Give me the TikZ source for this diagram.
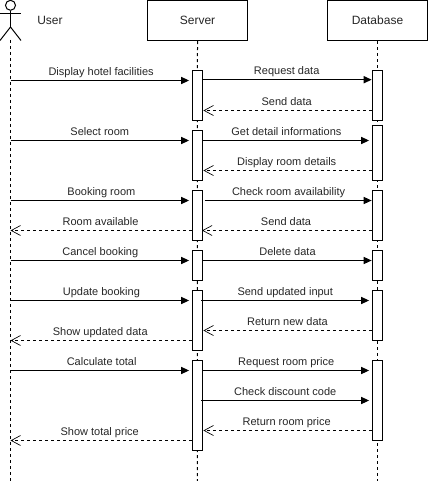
\documentclass[tikz,border=0pt]{standalone}
\usepackage{fontspec}
\setmainfont{Liberation Sans}
\usetikzlibrary{arrows.meta}
\tikzset{
  x=0.75pt,y=-0.75pt,
  every path/.style={line width=0.75pt},
  headbox/.style={draw,fill=white,minimum width=75.4pt,minimum height=30.4pt,inner sep=0pt,font=\fontsize{9}{11}\selectfont,text=black!85},
  actbox/.style={draw,fill=white,minimum width=8.1pt,inner sep=0pt,anchor=north},
  lifeline/.style={dash pattern=on 2.25pt off 2.25pt},
  callmsg/.style={-{Triangle[length=6pt,width=5.4pt,fill=black]}},
  backmsg/.style={dash pattern=on 2.25pt off 2.25pt,-{Straight Barb[length=7pt,width=7.5pt,line width=0.5pt]}},
  msglabel/.style={midway,anchor=base,inner sep=0pt,yshift=3.9pt,xshift=#1,font=\fontsize{8.25}{10}\selectfont,text=black!85},
  msglabel/.default=0pt,
}
\newcommand{\actbar}[4]{\node[actbox,minimum height=#4*0.75pt+0.3pt] (#1) at (#2,#3) {};}
\begin{document}
\begin{tikzpicture}
\useasboundingbox (0,0) rectangle (428,481);
% head boxes
\node[headbox] (server) at (197.5,20.4) {Server};
\node[headbox] (db) at (377.5,20.4) {Database};
% actor
\coordinate (actorfoot) at (10.5,40);
\coordinate (ue) at (10.5,481);
\coordinate (se) at (197.3,481);
\coordinate (de) at (377.5,481);
\node[circle,draw,minimum size=7.5pt,inner sep=0pt] (head) at (10.5,5.3) {};
\coordinate (hip) at (10.5,27);
\draw (head.south) -- (hip);
\draw (0,14) -- (21,14);
\draw (0,40.5) -- (hip) -- (21,40.5);
\node[inner sep=0pt,font=\fontsize{9}{11}\selectfont,text=black!85] (user) at (50,20.5) {User};
% lifelines
\draw[lifeline] (actorfoot) -- (ue);
\draw[lifeline] (server.south) -- (se);
\draw[lifeline] (db.south) -- (de);
% activations
\actbar{s1}{197.5}{70}{50}
\actbar{s2}{197.5}{130}{50}
\actbar{s3}{197.5}{190}{50}
\actbar{s4}{197.5}{250}{30}
\actbar{s5}{197.5}{290}{60}
\actbar{s6}{197.5}{360}{90}
\actbar{d1}{377.5}{70}{50}
\actbar{d2}{377.5}{125}{55}
\actbar{d3}{377.5}{190}{50}
\actbar{d4}{377.5}{250}{30}
\actbar{d5}{377.5}{290}{50}
\actbar{d6}{377.5}{360}{80}
% row anchors on the user lifeline
\foreach \n/\y in {a/80.5,q/79.7,b/110.5,c/140.5,d/170.5,e/200.5,f/230.5,g/260.5,h/300.5,i/330.5,j/340.5,k/370.5,l/400.5,m/430.5,n/440.5}
  \coordinate (r\n) at (10.5,\y);
% user <-> server
\draw[callmsg] (ra) -- ([xshift=-1.9pt]s1.west |- ra) node[msglabel=1pt] (t1) {Display hotel facilities};
\draw[callmsg] (rc) -- ([xshift=-1.9pt]s2.west |- rc) node[msglabel] (t2) {Select room};
\draw[callmsg] (re) -- ([xshift=-1.9pt]s3.west |- re) node[msglabel=1.2pt] (t3) {Booking room};
\draw[backmsg] (s3.west |- rf) -- (rf) node[msglabel=-0.4pt] (t4) {Room available};
\draw[callmsg] (rg) -- ([xshift=-1.9pt]s4.west |- rg) node[msglabel=0.4pt] (t5) {Cancel booking};
\draw[callmsg] (rh) -- ([xshift=-1.9pt]s5.west |- rh) node[msglabel=1.2pt] (t6) {Update booking};
\draw[backmsg] (s5.west |- rj) -- (rj) node[msglabel=-0.6pt] (t7) {Show updated data};
\draw[callmsg] (rk) -- ([xshift=-1.9pt]s6.west |- rk) node[msglabel=1.4pt] (t8) {Calculate total};
\draw[backmsg] (s6.west |- rn) -- (rn) node[msglabel=-1pt] (t9) {Show total price};
% server <-> database
\draw[callmsg] (s1.east |- rq) -- (d1.west |- rq) node[msglabel=-0.6pt] (u1) {Request data};
\draw[backmsg] (d1.west |- rb) -- (s1.east |- rb) node[msglabel=-0.6pt] (u2) {Send data};
\draw[callmsg] (s2.east |- rc) -- ([xshift=-1.9pt]d2.west |- rc) node[msglabel=0.1pt] (u3) {Get detail informations};
\draw[backmsg] (d2.west |- rd) -- (s2.east |- rd) node[msglabel=-0.6pt] (u4) {Display room details};
\draw[callmsg] ([xshift=1pt]s3.east |- re) -- (d3.west |- re) node[msglabel=0.3pt] (u5) {Check room availability};
\draw[backmsg] (d3.west |- rf) -- ([xshift=-1pt]s3.east |- rf) node[msglabel=-0.6pt] (u6) {Send data};
\draw[callmsg] (s4.east |- rg) -- (d4.west |- rg) node[msglabel=0pt] (u7) {Delete data};
\draw[callmsg] ([xshift=-1.5pt]s5.east |- rh) -- ([xshift=-1.9pt]d5.west |- rh) node[msglabel=0pt] (u8) {Send updated input};
\draw[backmsg] (d5.west |- ri) -- (s5.east |- ri) node[msglabel=0pt] (u9) {Return new data};
\draw[callmsg] (s6.east |- rk) -- ([xshift=-1.9pt]d6.west |- rk) node[msglabel=0pt] (u10) {Request room price};
\draw[callmsg] ([xshift=-1.5pt]s6.east |- rl) -- ([xshift=-1.9pt]d6.west |- rl) node[msglabel=0pt] (u11) {Check discount code};
\draw[backmsg] (d6.west |- rm) -- (s6.east |- rm) node[msglabel=-0.6pt] (u12) {Return room price};
\end{tikzpicture}
\end{document}
